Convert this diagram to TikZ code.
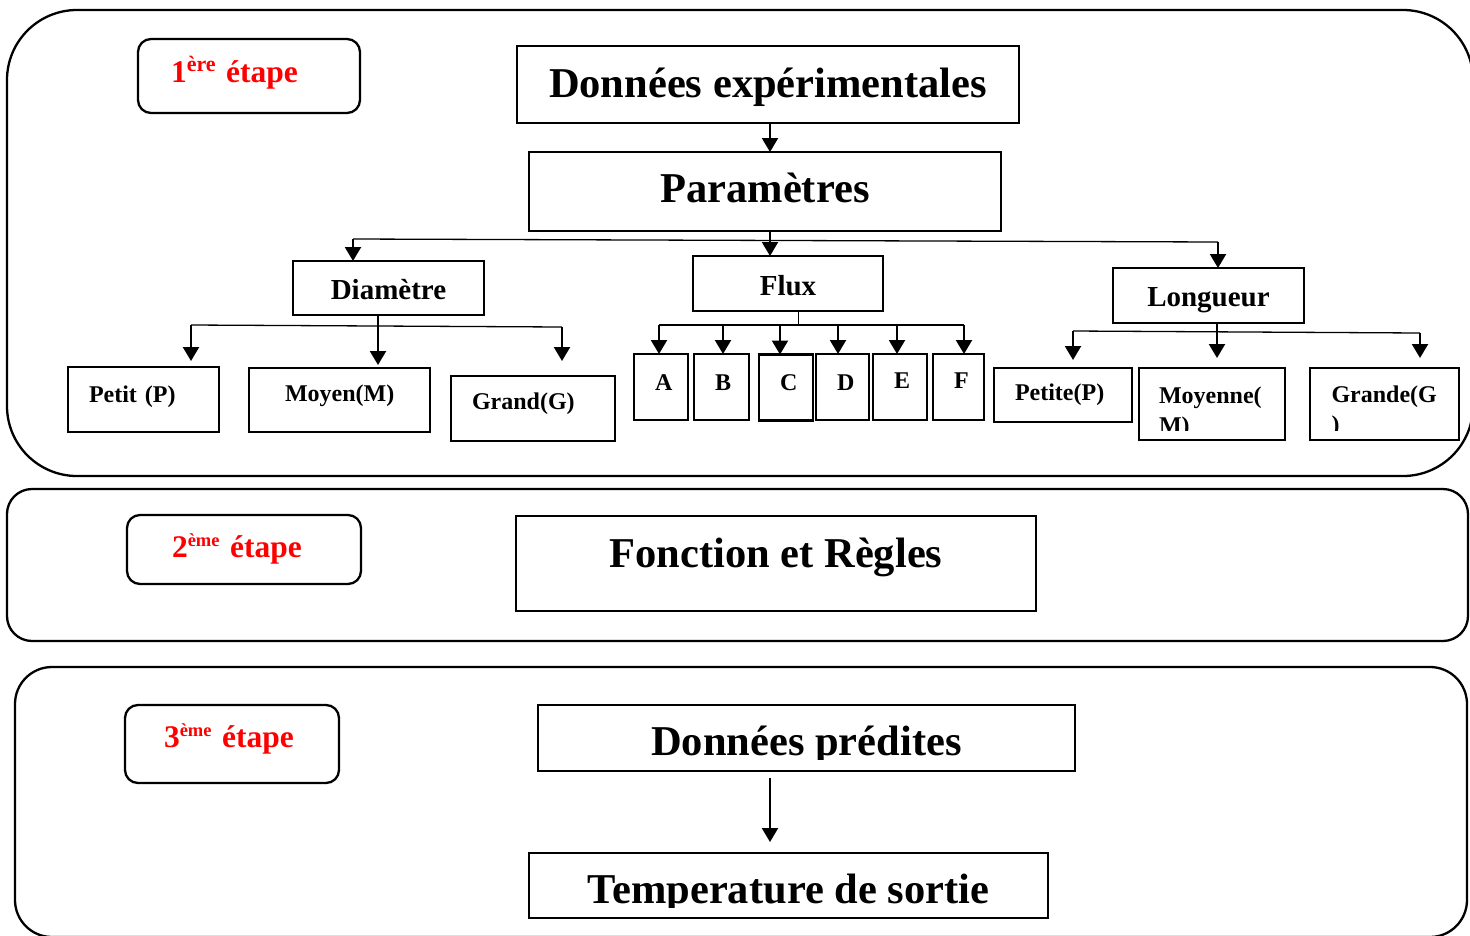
\documentclass[tikz,border=0pt]{standalone}
\usepackage{fontspec}
\setmainfont{Liberation Serif}
\usetikzlibrary{arrows.meta}
\newcommand\bigtxt{\bfseries\fontsize{42.5}{50}\selectfont}
\newcommand\midtxt{\bfseries\fontsize{29}{34}\selectfont}
\newcommand\leaftxt{\bfseries\fontsize{24}{30}\selectfont}
\newcommand\stagetxt{\bfseries\fontsize{31.5}{38}\selectfont}
\newcommand\expo[2]{\raisebox{11pt}{\fontsize{#1}{#1}\selectfont #2}}
\begin{document}
\begin{tikzpicture}[x=1pt, y=-1pt,
    panel/.style={draw, line width=2.3pt, rounded corners=#1},
    stage/.style={draw, line width=2.3pt, rounded corners=13pt, outer sep=0pt, inner ysep=0pt, align=left, text=red, font=\stagetxt},
    bigbox/.style={draw, line width=2.8pt, outer sep=0pt, inner sep=0pt, font=\bigtxt},
    midbox/.style={draw, line width=2.8pt, outer sep=0pt, inner sep=0pt, font=\midtxt},
    leaf/.style={draw, line width=2.8pt, outer sep=0pt, inner xsep=21pt, inner ysep=0pt, align=left, font=\leaftxt},
    frame/.style={draw, line width=2.8pt},
    arr/.style={line width=2.2pt, -{Triangle[length=14pt,width=16pt]}},
    branch/.style={line width=1.3pt},
    stub/.style={line width=1pt},
    bsl/.style={text height=#1, text depth=0pt},
    bsu/.style={text height=0pt, text depth=#1}]
  \useasboundingbox (0,0) rectangle (1470,935);
  \clip (0,0) rectangle (1470,935);

  \draw[panel=70pt] (7,10) rectangle (1473,476);
  \draw[panel=25pt] (7,489) rectangle (1468,641);
  \draw[panel=37pt] (15,667) rectangle (1467,937);

  \node[stage, bsl=12pt, minimum width=222pt, minimum height=74pt, inner xsep=33pt, text width=156pt] (etape1) at (249,76) {1\expo{22}{ère\ }étape};
  \node[bigbox, bsl=25pt, minimum width=502pt, minimum height=77pt] (donnees) at (768,84.5) {Données expérimentales};
  \node[bigbox, bsl=21pt, minimum width=472pt, minimum height=79pt] (param) at (765,191.5) {Paramètres};
  \node[midbox, bsl=22pt, minimum width=191pt, minimum height=54pt] (diam) at (388.5,288) {Diamètre};
  \node[midbox, bsl=23pt, minimum width=190pt, minimum height=55pt] (flux) at (788,283.5) {Flux};
  \node[midbox, bsl=21pt, minimum width=191pt, minimum height=55pt] (longueur) at (1208.5,295.5) {Longueur};

  \node[leaf, bsl=6pt, minimum height=65pt, text width=109pt] (petit) at (143.5,399.5) {Petit (P)};
  \node[leaf, bsl=2pt, minimum height=64pt, inner xsep=36pt, text width=109pt] (moyen) at (339.5,400) {Moyen(M)};
  \node[leaf, bsl=2pt, minimum height=65pt, text width=122pt] (grand) at (533,408.5) {Grand(G)};

  \node[leaf, bsl=6pt, minimum height=66pt, text width=12pt] (a) at (661,387) {A};
  \node[leaf, bsl=6pt, minimum height=66pt, text width=13pt] (b) at (721.5,387) {B};
  \node[leaf, bsl=6pt, minimum height=66pt, text width=12pt] (c) at (786,387.5) {C};
  \node[leaf, bsl=6pt, minimum height=66pt, text width=11pt] (d) at (842.5,387) {D};
  \node[leaf, bsl=3pt, minimum height=66pt, text width=12pt] (e) at (900,387) {E};
  \node[leaf, bsl=3pt, minimum height=66pt, text width=9pt] (f) at (958.5,387) {F};

  \node[leaf, bsl=10pt, minimum height=54pt, text width=96pt] (petite) at (1063,395) {Petite(P)};
  \begin{scope}
    \clip (1100,350) rectangle (1470,430);
    \node[leaf, bsu=2pt, minimum height=72pt, inner xsep=20pt, text width=106pt] (moyenne) at (1212,404) {Moyenne(\\M)};
    \node[leaf, bsu=4pt, minimum height=72pt, inner xsep=21.5pt, text width=106pt] (grande) at (1384.5,404) {Grande(G\\)};
  \end{scope}
  \draw[frame] (moyenne.south west) rectangle (moyenne.north east);
  \draw[frame] (grande.south west) rectangle (grande.north east);

  \node[stage, bsl=15pt, minimum width=234pt, minimum height=69pt, inner xsep=45pt, text width=144pt] (etape2) at (244,549.5) {2\expo{18.5}{ème\ }étape};
  \node[bigbox, bsl=7pt, minimum width=520pt, minimum height=95pt] (fonction) at (776,563.5) {Fonction et Règles};

  \node[stage, bsl=6pt, minimum width=214pt, minimum height=78pt, inner xsep=39pt, text width=136pt] (etape3) at (232,744) {3\expo{18.5}{ème\ }étape};
  \begin{scope}
    \clip (500,690) rectangle (1100,759);
    \node[bigbox, bsl=34pt, minimum width=537pt, minimum height=66pt] (predites) at (806.5,738) {Données prédites};
  \end{scope}
  \begin{scope}
    \clip (500,840) rectangle (1100,907);
    \node[bigbox, bsl=35pt, minimum width=519pt, minimum height=65pt] (temperature) at (788.5,885.5) {Temperature de sortie};
  \end{scope}
  \draw[frame] (predites.south west) rectangle (predites.north east);
  \draw[frame] (temperature.south west) rectangle (temperature.north east);

  \coordinate (pl) at (353,239);
  \coordinate (pr) at (1218,242);
  \coordinate (dl) at (191,325);
  \coordinate (dr) at (562,327);
  \coordinate (fl) at (659,325);
  \coordinate (fr) at (964,325);
  \coordinate (ll) at (1073,331);
  \coordinate (lr) at (1420,333);

  \draw[arr] ([xshift=2pt]donnees.south) -- ([xshift=2pt]donnees.south |- param.north);
  \draw[arr] ([xshift=5pt]param.south) -- ([xshift=5pt]param.south |- flux.north);
  \draw[branch] (pl) -- (pr);
  \draw[arr] (pl) -- (pl |- diam.north);
  \draw[arr] (pr) -- (pr |- longueur.north);

  \draw[arr, shorten >=3pt] ([xshift=-10.5pt]diam.south) -- ([xshift=-10.5pt]diam.south |- moyen.north);
  \draw[branch] (dl) -- (dr);
  \draw[arr, shorten >=6pt] (dl) -- (dl |- petit.north);
  \draw[arr, shorten >=15pt] (dr) -- (dr |- grand.north);

  \draw[stub] ([xshift=10pt]flux.south) -- ([xshift=10pt]flux.south |- fl);
  \draw[branch] (fl) -- (fr);
  \draw[arr] (fl) -- (fl |- a.north);
  \draw[arr] ([xshift=1.5pt]b.north |- fl) -- ([xshift=1.5pt]b.north);
  \draw[arr] ([xshift=-6pt]c.north |- fl) -- ([xshift=-6pt]c.north);
  \draw[arr] ([xshift=-4.5pt]d.north |- fl) -- ([xshift=-4.5pt]d.north);
  \draw[arr] ([xshift=-3pt]e.north |- fl) -- ([xshift=-3pt]e.north);
  \draw[arr] (fr) -- (fr |- f.north);

  \draw[arr, shorten >=10pt] ([xshift=8.5pt]longueur.south) -- ([xshift=8.5pt]longueur.south |- moyenne.north);
  \draw[branch] (ll) -- (lr);
  \draw[arr, shorten >=8pt] (ll) -- (ll |- petite.north);
  \draw[arr, shorten >=10pt] (lr) -- (lr |- grande.north);

  \draw[arr, shorten <=7pt, shorten >=11pt] ([xshift=-36.5pt]predites.south) -- ([xshift=-36.5pt]predites.south |- temperature.north);
\end{tikzpicture}
\end{document}
